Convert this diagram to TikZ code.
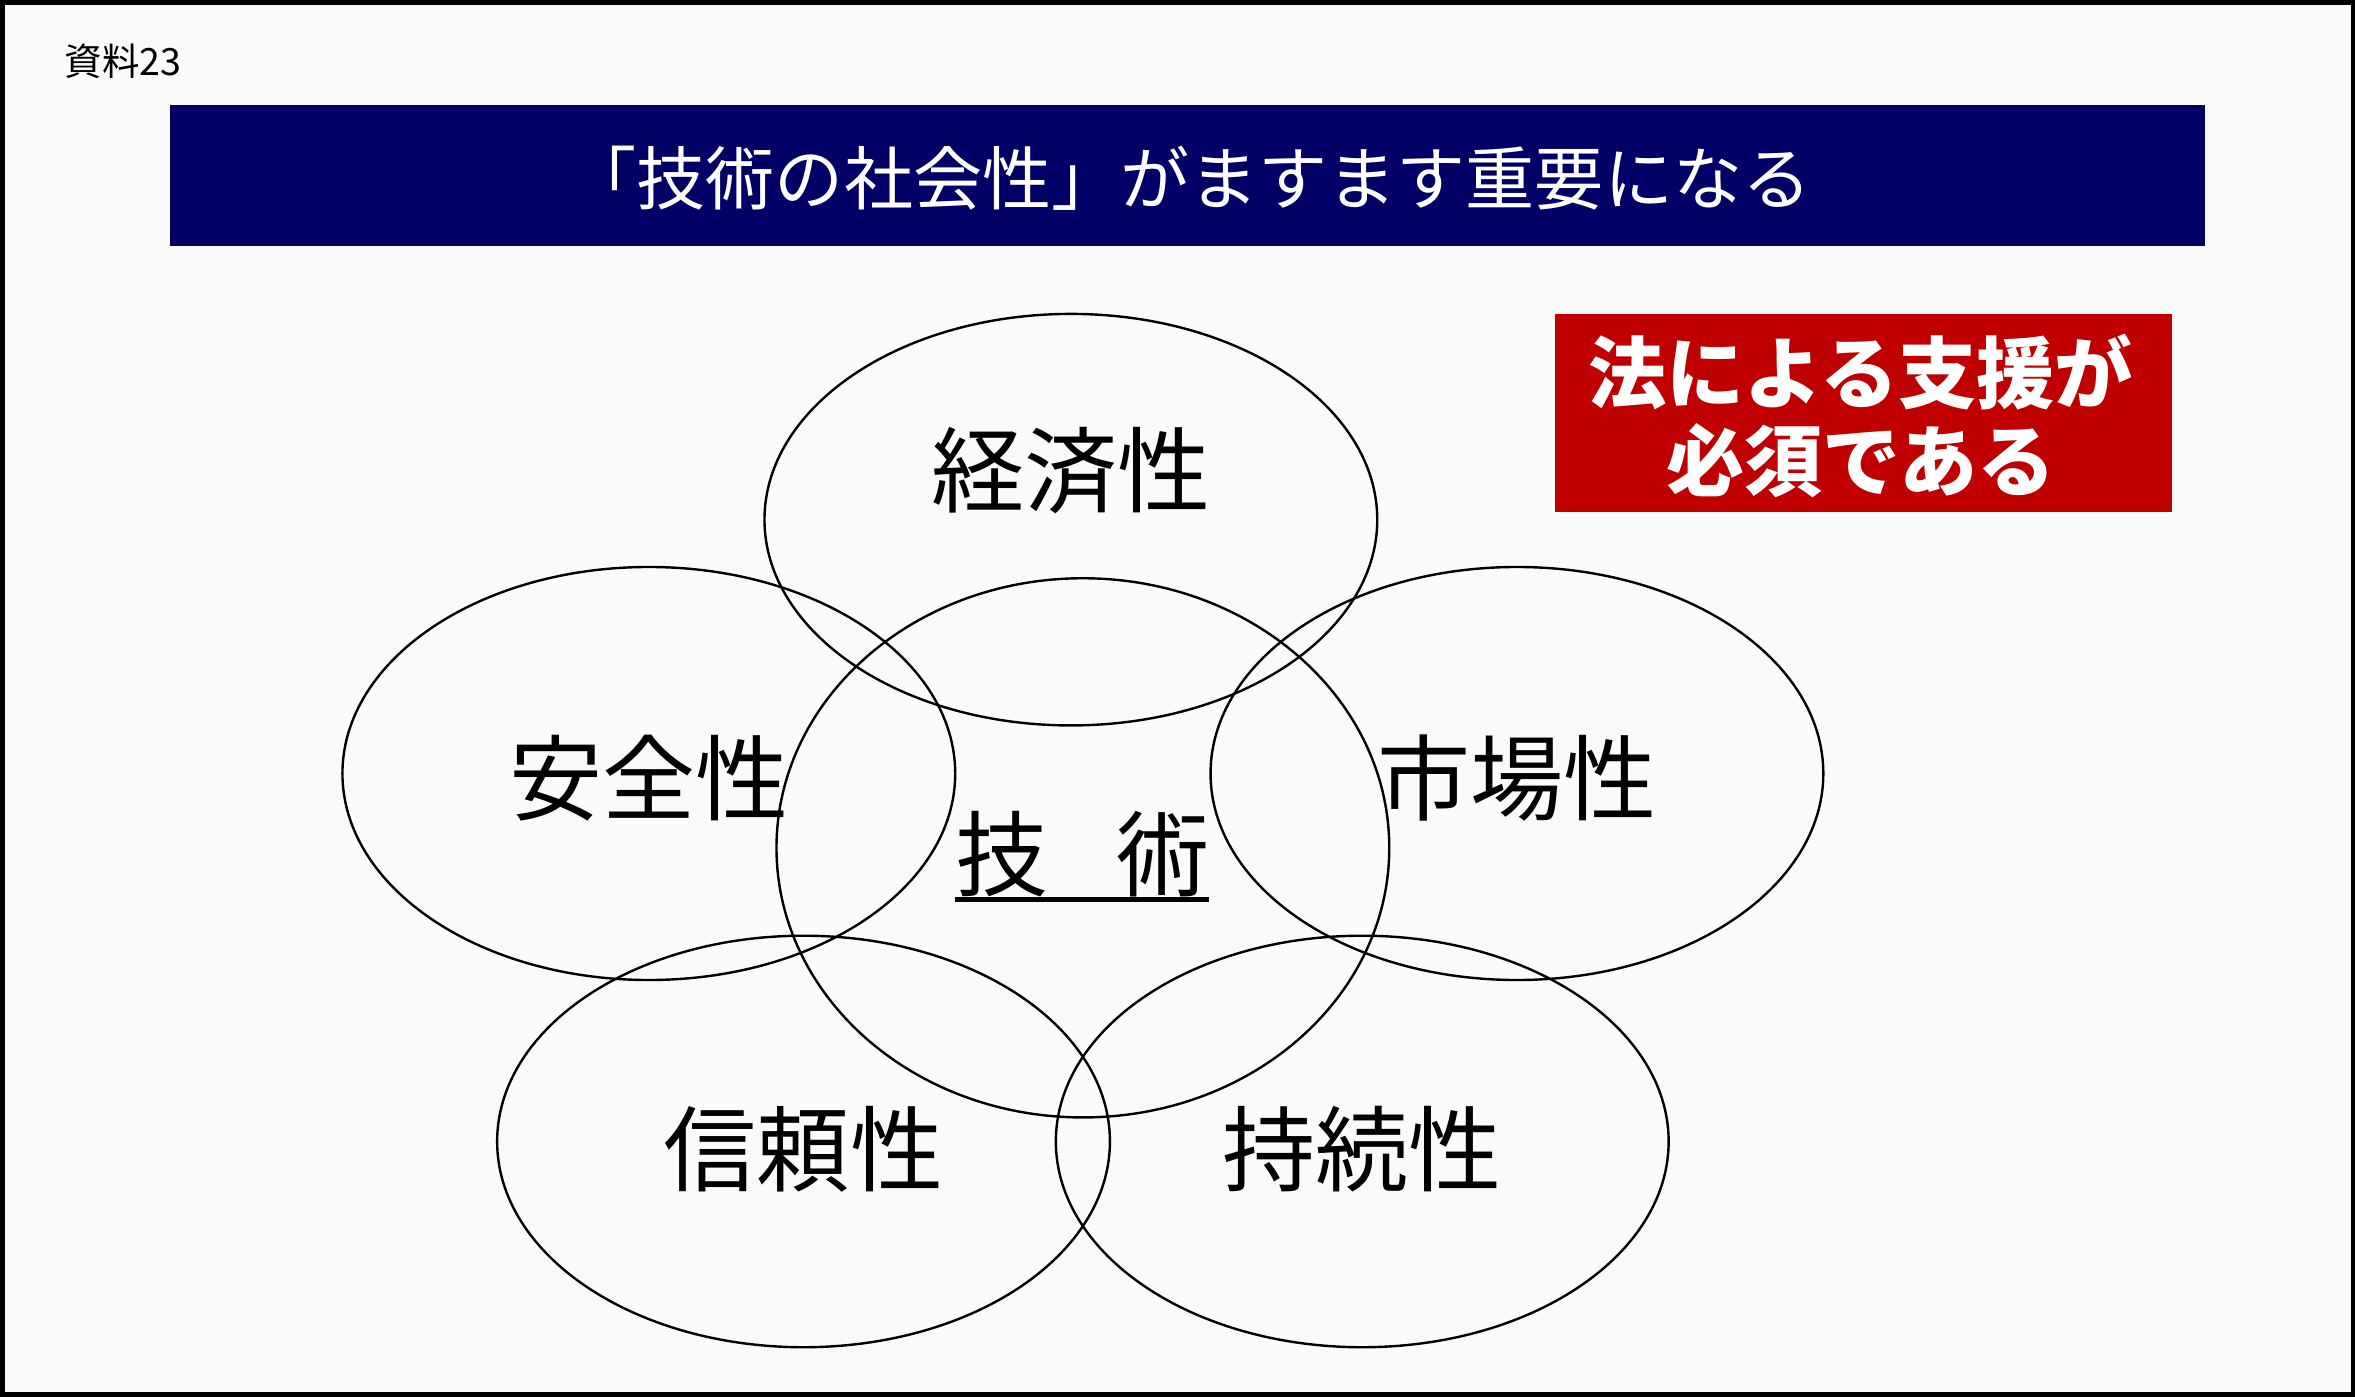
\documentclass[tikz,border=0pt]{standalone}
\usepackage{fontspec}
\newfontfamily\jp{Noto Sans CJK JP}
\begin{document}
\begin{tikzpicture}[x=1pt,y=-1pt,
  ring/.style={draw=black,line width=1.6pt},
  lbl/.style={font=\jp\fontsize{62}{62}\selectfont,inner sep=0pt,anchor=center},
]
\useasboundingbox (0,0) rectangle (1568,930);
\definecolor{navy}{RGB}{0,0,102}
\definecolor{redbox}{RGB}{192,0,0}
\definecolor{bg}{RGB}{250,250,250}
\draw[fill=bg,line width=3pt] (1.5,1.5) rectangle (1566.5,928.5);
\node[font=\jp\fontsize{25}{25}\selectfont,anchor=west,inner sep=0pt] (doc) at (43,41) {資料23};
\node[fill=navy,minimum width=1355pt,minimum height=94pt,inner sep=0pt] (title) at (790.5,117) {};
\node[font=\jp\fontsize{46}{46}\selectfont,text=white,inner sep=0pt] (titletext) at (792,119) {「技術の社会性」がますます重要になる};
\node[fill=redbox,minimum width=411pt,minimum height=132pt,inner sep=0pt] (law) at (1240.5,275) {};
\node[font=\jp\bfseries\fontsize{52}{59}\selectfont,text=white,align=center,inner sep=0pt] (lawtext) at (1239,277) {法による支援が\\必須である};
% ellipses
\draw[ring] (713,346) ellipse [x radius=204, y radius=137];
\draw[ring] (432,515) ellipse [x radius=204, y radius=137.5];
\draw[ring] (1010,515) ellipse [x radius=204, y radius=137.5];
\draw[ring] (721,564.5) ellipse [x radius=204, y radius=179.5];
\draw[ring] (535,760) ellipse [x radius=204, y radius=137];
\draw[ring] (907,760) ellipse [x radius=204, y radius=137];
% labels
\node[lbl] (econ) at (713,313) {経済性};
\node[lbl] (safe) at (432,518) {安全性};
\node[lbl] (mkt) at (1010,518) {市場性};
\node[lbl] (rel) at (535,765) {信頼性};
\node[lbl] (sus) at (907,765) {持続性};
\node[lbl] (tech) at (721,569) {技\hspace{45pt}術};
\coordinate (ul1) at (636,599);
\coordinate (ul2) at (805,599);
\draw[line width=3.5pt] (ul1) -- (ul2);
\end{tikzpicture}
\end{document}
